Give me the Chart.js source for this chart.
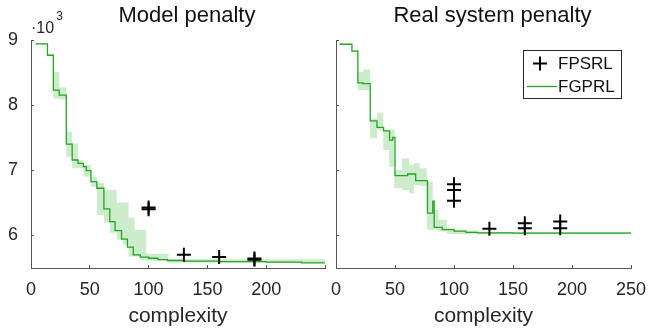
<!DOCTYPE html>
<html><head><meta charset="utf-8">
<script src="https://cdn.jsdelivr.net/npm/chart.js@4.4.1/dist/chart.umd.min.js"></script>
<style>
html,body{margin:0;padding:0;background:#fff;width:649px;height:333px;overflow:hidden}
#c1{position:absolute;left:0;top:0}
#c2{position:absolute;left:327px;top:0}
</style></head><body>
<canvas id="c1" width="334" height="333"></canvas>
<canvas id="c2" width="322" height="333"></canvas>
<script>
// ---- axes ----
const X_TICKS = [0, 50, 100, 150, 200, 250];
const X_TICK_LABELS_LEFT = ['0', '50', '100', '150', '200', ''];
const X_TICK_LABELS_RIGHT = ['0', '50', '100', '150', '200', '250'];
const Y_TICKS = [6000, 7000, 8000, 9000];
const Y_TICK_LABELS = ['6', '7', '8', '9'];
const TITLES = ['Model penalty', 'Real system penalty'];
const X_LABEL = 'complexity';
const LEGEND_LABELS = ['FPSRL', 'FGPRL'];

// ---- Model penalty ----
const MODEL_FGPRL_X = [4, 14, 19, 24, 30, 35, 40, 44.5, 47, 51, 56, 62, 67, 71.5, 77, 82, 87, 93, 100, 108, 116, 130, 160, 200, 230, 250];
const MODEL_FGPRL_Y = [8940, 8766, 8230, 8153, 7403, 7158, 7107, 7055, 6994, 6825, 6724, 6407, 6213, 6075, 5943, 5821, 5703, 5668, 5650, 5630, 5615, 5605, 5598, 5590, 5580, 5570];
const MODEL_BAND_X  = [4, 14, 19, 24, 30, 35, 40, 44.5, 51, 56, 62, 67, 73, 78, 83, 88, 93, 98, 117, 250];
const MODEL_BAND_LO = [8930, 8755, 8103, 8087, 7208, 7031, 7031, 6902, 6749, 6315, 6193, 6040, 5933, 5856, 5677, 5677, 5627, 5610, 5580, 5545];
const MODEL_BAND_HI = [8950, 8780, 8510, 8271, 7591, 7413, 7158, 7081, 6902, 6806, 6698, 6698, 6504, 6504, 6270, 6086, 6086, 5720, 5635, 5590];
const MODEL_FPSRL_X = [100, 100, 130, 160, 190, 190];
const MODEL_FPSRL_Y = [6400, 6430, 5703, 5668, 5628, 5645];

// ---- Real system penalty ----
const REAL_FGPRL_X = [3, 13.5, 18.5, 23, 29, 34.7, 40.3, 45.4, 48, 50, 60.7, 67.5, 77.5, 82, 83.2, 90, 100, 110, 120, 150, 250];
const REAL_FGPRL_Y = [8935, 8830, 8342, 8330, 7760, 7658, 7606, 7464, 7505, 6917, 6943, 6841, 6342, 6525, 6125, 6090, 6065, 6048, 6040, 6036, 6035];
const REAL_BAND_X  = [3, 13.5, 18.5, 23, 29, 35, 40, 45, 49.5, 56, 62, 66, 71, 77, 82, 87, 94, 100, 120, 250];
const REAL_BAND_LO = [8925, 8815, 8230, 8230, 7490, 7617, 7311, 7055, 6724, 6698, 6648, 6775, 6760, 6086, 6086, 6060, 6024, 6020, 6020, 6018];
const REAL_BAND_HI = [8945, 8845, 8510, 8547, 7796, 7882, 7628, 7628, 7005, 7184, 7081, 7107, 7030, 6825, 6392, 6240, 6110, 6075, 6055, 6050];
const REAL_FPSRL_X = [100, 100, 100, 130, 160, 160, 190, 190];
const REAL_FPSRL_Y = [6786, 6698, 6534, 6101, 6188, 6112, 6213, 6112];

// ---- styles ----
const FONT = '"Liberation Sans", Arial, Helvetica, sans-serif';
const GREEN = '#25a425';
const BAND = 'rgba(40,175,40,0.24)';
const AXIS = '#555555';
const TEXT = '#262626';
Chart.defaults.font.family = FONT;

const zip = (xs, ys) => xs.map((x, i) => ({x: x, y: ys[i]}));

function makeDatasets(fx, fy, bx, blo, bhi, mx, my) {
  return [
    {label: LEGEND_LABELS[0], data: zip(mx, my), showLine: false, pointStyle: 'cross',
     pointRadius: 7, pointHoverRadius: 7, borderColor: '#000', pointBorderColor: '#000',
     pointBorderWidth: 2, borderWidth: 2, order: 0},
    {label: LEGEND_LABELS[1], data: zip(fx, fy), showLine: true, stepped: true, borderColor: GREEN,
     borderWidth: 1.3, pointRadius: 0, fill: false, order: 1},
    {label: 'band hi', data: zip(bx, bhi), showLine: true, stepped: true, borderWidth: 0,
     borderColor: 'transparent', pointRadius: 0, fill: false, order: 2},
    {label: 'band lo', data: zip(bx, blo), showLine: true, stepped: true, borderWidth: 0,
     borderColor: 'transparent', pointRadius: 0, fill: '-1', backgroundColor: BAND, order: 3}
  ];
}

function makeScales(showY, yWidth, xLabels) {
  return {
    x: {
      type: 'linear', position: 'bottom', min: 0, max: 250,
      afterBuildTicks: s => { s.ticks = X_TICKS.map(v => ({value: v})); },
      afterFit: s => { s.height = 65; s.paddingLeft = 0; s.paddingRight = 0; },
      ticks: {autoSkip: false, maxRotation: 0, padding: 14, color: TEXT,
              font: {size: 18, family: FONT},
              callback: v => { const i = X_TICKS.indexOf(v); return i >= 0 ? xLabels[i] : ''; }},
      grid: {drawOnChartArea: false, drawTicks: true, tickLength: -3, tickColor: AXIS, tickWidth: 1},
      border: {display: true, color: AXIS, width: 1},
      title: {display: true, text: X_LABEL, color: TEXT, font: {size: 21, family: FONT},
              padding: {top: 0, bottom: 4}}
    },
    y: {
      type: 'linear', position: 'left', min: 5500, max: 9000,
      afterBuildTicks: s => { s.ticks = Y_TICKS.map(v => ({value: v})); },
      afterFit: s => { s.width = yWidth; s.paddingTop = 0; s.paddingBottom = 0; },
      ticks: {display: showY, padding: 16, color: TEXT, font: {size: 18, family: FONT},
              callback: v => { const i = Y_TICKS.indexOf(v); return i >= 0 ? Y_TICK_LABELS[i] : ''; }},
      grid: {drawOnChartArea: false, drawTicks: true, tickLength: -3, tickColor: AXIS, tickWidth: 1},
      border: {display: true, color: AXIS, width: 1}
    }
  };
}

const textPlugin = {
  id: 'texts',
  afterDraw(chart, args, opts) {
    const ctx = chart.ctx, a = chart.chartArea;
    ctx.save();
    ctx.fillStyle = '#111';
    ctx.textBaseline = 'alphabetic';
    ctx.textAlign = 'center';
    ctx.font = '22px ' + FONT;
    ctx.fillText(opts.title, (a.left + a.right) / 2 + 9, 22);
    if (opts.exponent) {
      ctx.fillStyle = TEXT;
      ctx.textAlign = 'left';
      ctx.font = '16px ' + FONT;
      const base = '\u00B710';
      ctx.fillText(base, a.left, 33);
      const w = ctx.measureText(base).width;
      ctx.font = '12px ' + FONT;
      ctx.fillText('3', a.left + w + 2, 20);
    }
    if (opts.legend) {
      const bw = 98, bh = 48;
      const bx = a.right - 10 - bw, by = a.top + 9.5;
      ctx.fillStyle = '#fff';
      ctx.fillRect(bx, by, bw, bh);
      ctx.strokeStyle = '#262626';
      ctx.lineWidth = 1;
      ctx.strokeRect(Math.round(bx) + 0.5, Math.round(by) + 0.5, bw, bh);
      // cross marker
      const cx = bx + 17, cy = by + 14;
      ctx.strokeStyle = '#000';
      ctx.lineWidth = 2;
      ctx.beginPath();
      ctx.moveTo(cx - 7, cy); ctx.lineTo(cx + 7, cy);
      ctx.moveTo(cx, cy - 7); ctx.lineTo(cx, cy + 7);
      ctx.stroke();
      // line sample
      ctx.strokeStyle = GREEN;
      ctx.lineWidth = 1.3;
      ctx.beginPath();
      ctx.moveTo(bx + 4, by + 37); ctx.lineTo(bx + 34, by + 37);
      ctx.stroke();
      ctx.fillStyle = '#111';
      ctx.font = '17px ' + FONT;
      ctx.textAlign = 'left';
      ctx.textBaseline = 'middle';
      ctx.fillText(LEGEND_LABELS[0], bx + 35, cy + 1);
      ctx.fillText(LEGEND_LABELS[1], bx + 35, by + 38);
    }
    ctx.restore();
  }
};

function makeChart(id, datasets, scales, pad, textOpts) {
  return new Chart(document.getElementById(id), {
    type: 'scatter',
    data: {datasets: datasets},
    options: {
      responsive: false, animation: false, events: [],
      layout: {padding: pad},
      scales: scales,
      plugins: {legend: {display: false}, tooltip: {enabled: false}, texts: textOpts}
    },
    plugins: [textPlugin]
  });
}

makeChart('c1',
  makeDatasets(MODEL_FGPRL_X, MODEL_FGPRL_Y, MODEL_BAND_X, MODEL_BAND_LO, MODEL_BAND_HI, MODEL_FPSRL_X, MODEL_FPSRL_Y),
  makeScales(true, 31, X_TICK_LABELS_LEFT),
  {top: 40, right: 5, left: 0, bottom: 0},
  {title: TITLES[0], exponent: true, legend: false});

makeChart('c2',
  makeDatasets(REAL_FGPRL_X, REAL_FGPRL_Y, REAL_BAND_X, REAL_BAND_LO, REAL_BAND_HI, REAL_FPSRL_X, REAL_FPSRL_Y),
  makeScales(false, 6, X_TICK_LABELS_RIGHT),
  {top: 40, right: 18, left: 0, bottom: 0},
  {title: TITLES[1], exponent: false, legend: true});
</script>
</body></html>
